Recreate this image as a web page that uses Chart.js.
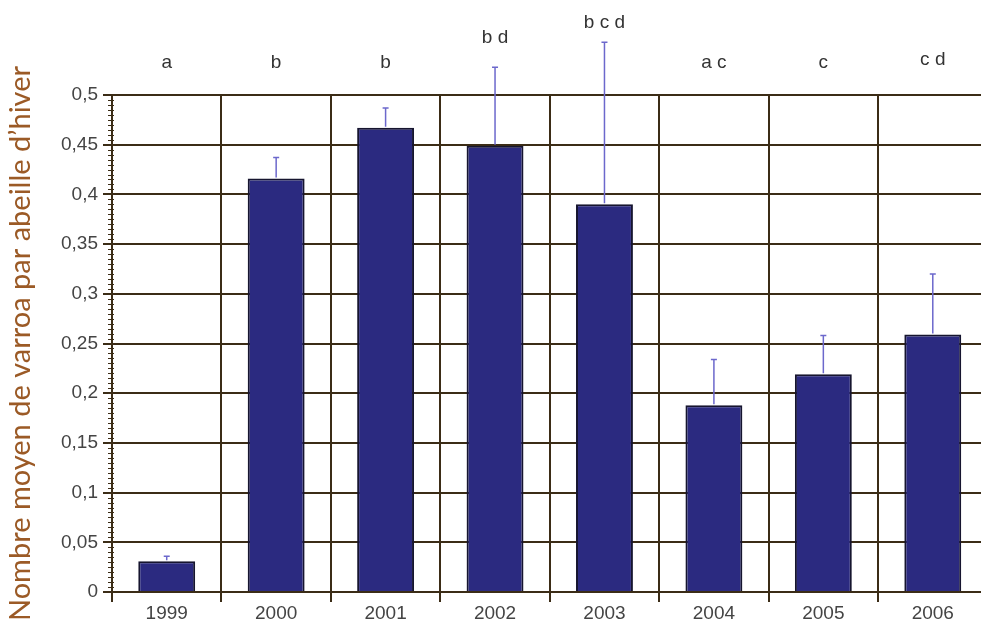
<!DOCTYPE html>
<html>
<head>
<meta charset="utf-8">
<script src="https://cdn.jsdelivr.net/npm/chart.js@4"></script>
<style>
  html, body { margin: 0; padding: 0; background: #fff; overflow: hidden; }
  #wrap { width: 995px; height: 624px; }
</style>
</head>
<body>
<div id="wrap"><canvas id="myChart" width="995" height="624"></canvas></div>
<script>
const years = ["1999", "2000", "2001", "2002", "2003", "2004", "2005", "2006"];
const means = [0.031, 0.416, 0.467, 0.449, 0.390, 0.188, 0.219, 0.259];
const errors = [0.005, 0.021, 0.020, 0.079, 0.163, 0.046, 0.039, 0.061];
const groups = ["a", "b", "b", "b d", "b c d", "a c", "c", "c d"];
const groupY = [0.532, 0.532, 0.532, 0.558, 0.573, 0.532, 0.532, 0.535];
const yTicks = [0, 0.05, 0.1, 0.15, 0.2, 0.25, 0.3, 0.35, 0.4, 0.45, 0.5];

const gridColor = "#3b2c16";
const labelFont = "'Liberation Sans', Arial, sans-serif";

// error bars, minor ticks and group letters
const extras = {
  id: "extras",
  afterDatasetsDraw(chart) {
    const ctx = chart.ctx;
    const x = chart.scales.x;
    const y = chart.scales.y;
    ctx.save();
    // error bars
    ctx.strokeStyle = "#6c68cc";
    ctx.lineWidth = 1.5;
    means.forEach((m, i) => {
      const px = x.getPixelForValue(i);
      const top = y.getPixelForValue(m + errors[i]);
      const base = y.getPixelForValue(m);
      ctx.beginPath();
      ctx.moveTo(px, base - 1);
      ctx.lineTo(px, top);
      ctx.moveTo(px - 3, top);
      ctx.lineTo(px + 3, top);
      ctx.stroke();
    });
    // minor ticks on y axis
    ctx.strokeStyle = gridColor;
    ctx.lineWidth = 1;
    for (let v = 0; v <= 0.5001; v += 0.005) {
      const py = Math.round(y.getPixelForValue(v)) + 0.5;
      ctx.beginPath();
      ctx.moveTo(chart.chartArea.left - 4, py);
      ctx.lineTo(chart.chartArea.left + 2, py);
      ctx.stroke();
    }
    // group letters
    ctx.fillStyle = "#333";
    ctx.font = "19px " + labelFont;
    ctx.textAlign = "center";
    ctx.textBaseline = "middle";
    groups.forEach((g, i) => {
      ctx.fillText(g, x.getPixelForValue(i), y.getPixelForValue(groupY[i]));
    });
    ctx.restore();
  },
};

const ctx = document.getElementById("myChart").getContext("2d");
new Chart(ctx, {
  type: "bar",
  data: {
    labels: years,
    datasets: [
      {
        data: means,
        backgroundColor: "#2b2a80",
        borderColor: "#16152f",
        borderWidth: 2,
        categoryPercentage: 1,
        barPercentage: 0.52,
      },
    ],
  },
  plugins: [extras],
  options: {
    responsive: false,
    animation: false,
    layout: { padding: { top: 95, right: 7.5, left: 0, bottom: 0 } },
    plugins: { legend: { display: false }, tooltip: { enabled: false } },
    scales: {
      x: {
        offset: true,
        afterFit: (s) => { s.height = 32; },
        grid: { color: gridColor, lineWidth: 2, offset: true, tickLength: 10 },
        border: { color: gridColor, width: 2 },
        ticks: {
          color: "#444",
          font: { family: labelFont, size: 19 },
          padding: 0,
        },
      },
      y: {
        min: 0,
        max: 0.5,
        afterFit: (s) => { s.width = 112; },
        afterBuildTicks: (s) => { s.ticks = yTicks.map((v) => ({ value: v })); },
        grid: { color: gridColor, lineWidth: 2, tickLength: 9 },
        border: { color: gridColor, width: 2 },
        ticks: {
          color: "#444",
          font: { family: labelFont, size: 19 },
          padding: 5,
          callback: (v) => String(+v.toFixed(2)).replace(".", ","),
        },
        title: {
          display: true,
          text: "Nombre moyen de varroa par abeille d\u2019hiver",
          color: "#9b5a26",
          font: { family: "Lato, 'Open Sans', sans-serif", size: 29 },
          padding: { top: 3, bottom: 0 },
        },
      },
    },
  },
});
</script>
</body>
</html>
